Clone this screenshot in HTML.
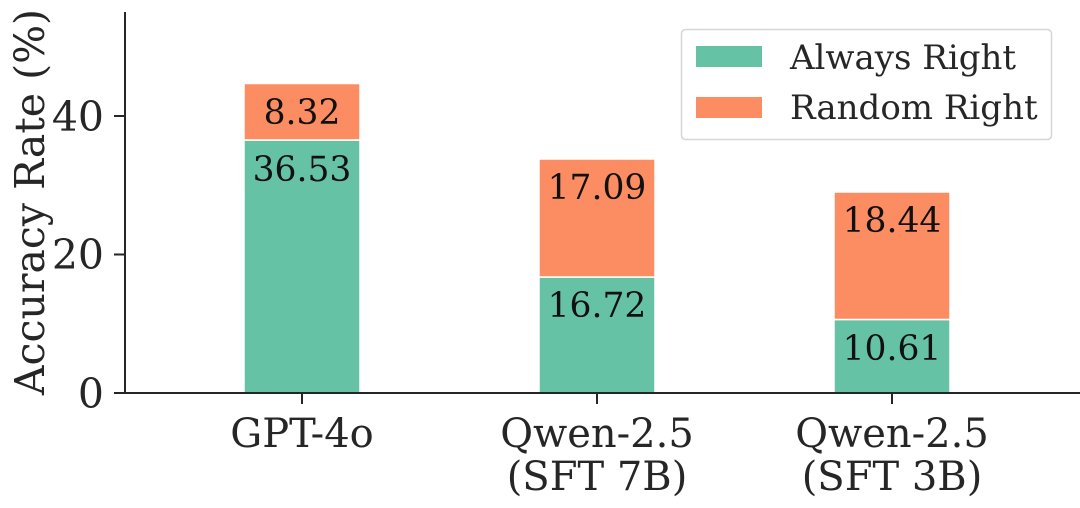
<!DOCTYPE html>
<html><head><meta charset="utf-8"><style>
html,body{margin:0;padding:0;background:#fff;}
svg text{font-family:"DejaVu Serif","Liberation Serif",serif;fill:#262626;}
</style></head><body>
<svg width="1080" height="503" viewBox="0 0 1080 503" xmlns="http://www.w3.org/2000/svg">
<g stroke="#fff" stroke-width="1.5">
<rect x="244" y="140" width="116" height="253" fill="#66c2a5"/>
<rect x="244" y="83.5" width="116" height="56.5" fill="#fc8d62"/>
<rect x="539" y="277" width="116" height="116" fill="#66c2a5"/>
<rect x="539" y="159" width="116" height="118" fill="#fc8d62"/>
<rect x="834" y="319.5" width="116" height="73.5" fill="#66c2a5"/>
<rect x="834" y="192" width="116" height="127.5" fill="#fc8d62"/>
</g>
<g stroke="#262626" stroke-width="2" fill="none">
<line x1="125" y1="12" x2="125" y2="394"/>
<line x1="124" y1="393" x2="1080" y2="393"/>
<line x1="114" y1="393" x2="125" y2="393"/>
<line x1="114" y1="254.5" x2="125" y2="254.5"/>
<line x1="114" y1="116" x2="125" y2="116"/>
<line x1="302" y1="393" x2="302" y2="404"/>
<line x1="597" y1="393" x2="597" y2="404"/>
<line x1="892" y1="393" x2="892" y2="404"/>
</g>
<g font-size="41" text-anchor="end">
<text x="104" y="408">0</text>
<text x="104" y="269">20</text>
<text x="104" y="131">40</text>
</g>
<text transform="translate(44,202) rotate(-90)" font-size="41" text-anchor="middle">Accuracy Rate (%)</text>
<g font-size="40" text-anchor="middle">
<text x="302" y="447">GPT-4o</text>
<text x="597" y="447">Qwen-2.5</text>
<text x="597" y="490">(SFT 7B)</text>
<text x="892" y="447">Qwen-2.5</text>
<text x="892" y="490">(SFT 3B)</text>
</g>
<g font-size="34.5" text-anchor="middle">
<text x="302" y="124" style="fill:#111">8.32</text>
<text x="302" y="181" style="fill:#111">36.53</text>
<text x="597" y="199" style="fill:#111">17.09</text>
<text x="597" y="317" style="fill:#111">16.72</text>
<text x="892" y="232" style="fill:#111">18.44</text>
<text x="892" y="360" style="fill:#111">10.61</text>
</g>
<rect x="681.5" y="29.5" width="370" height="110" rx="4" fill="#fff" stroke="#d6d6d6" stroke-width="1.5"/>
<rect x="696" y="46" width="66" height="21" fill="#66c2a5"/>
<rect x="696" y="97" width="66" height="21" fill="#fc8d62"/>
<g font-size="34">
<text x="790" y="69">Always Right</text>
<text x="790" y="119">Random Right</text>
</g>
</svg>
</body></html>
